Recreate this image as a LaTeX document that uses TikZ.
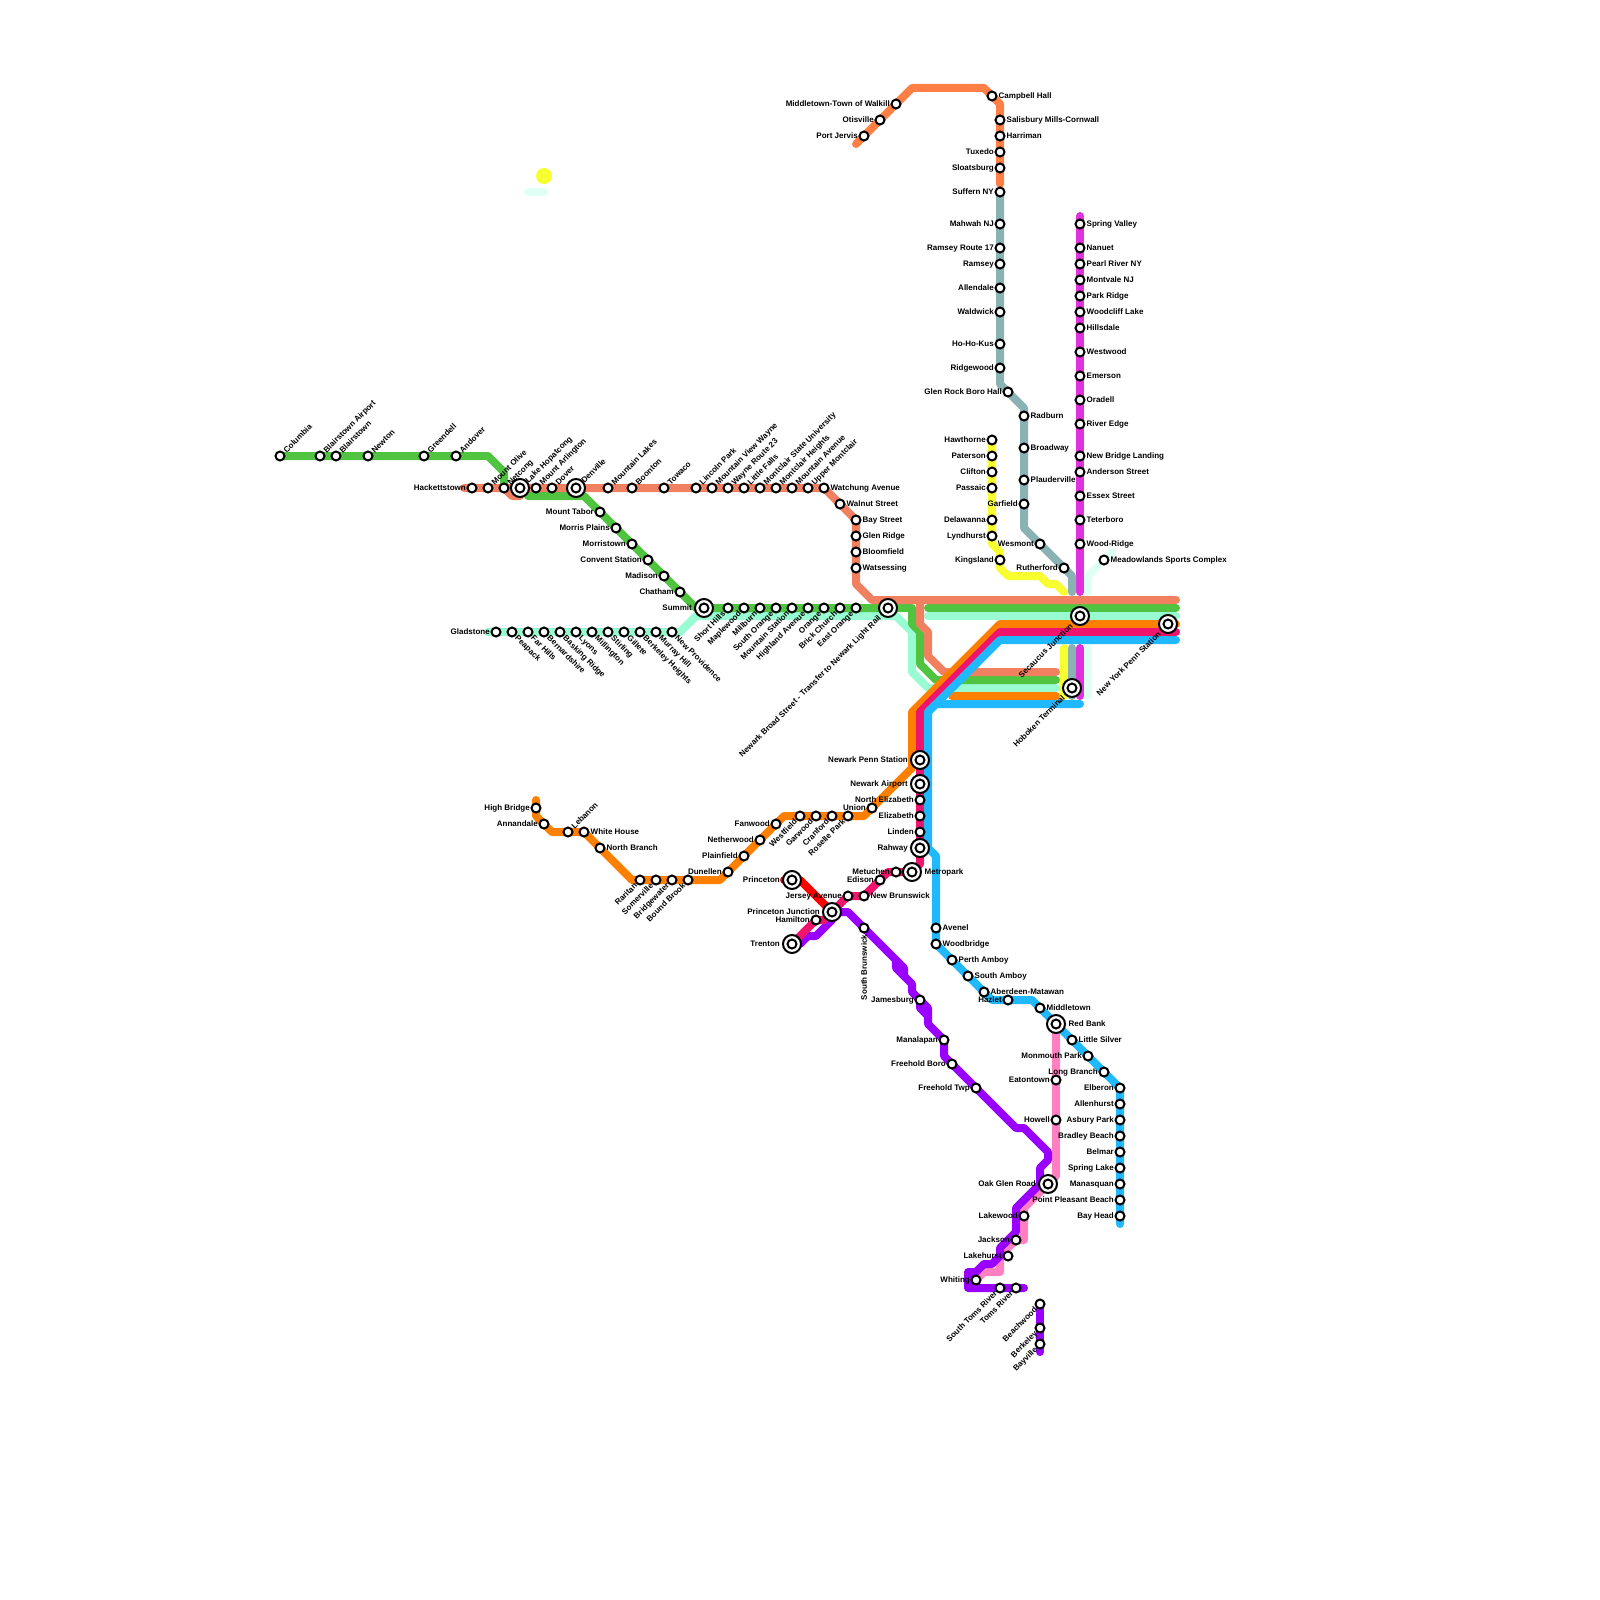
\documentclass[tikz,border=0pt]{standalone}
\usepackage{fontspec}
\setmainfont{Liberation Sans}
\usetikzlibrary{backgrounds}
\definecolor{lnGreen}{HTML}{50C440}
\definecolor{lnSalmon}{HTML}{F08060}
\definecolor{lnMint}{HTML}{98FBD2}
\definecolor{lnPale}{HTML}{E0FFF5}
\definecolor{lnOrange}{HTML}{FF8000}
\definecolor{lnCoral}{HTML}{FF7F45}
\definecolor{lnCrimson}{HTML}{F0146C}
\definecolor{lnBlue}{HTML}{20B8FF}
\definecolor{lnYellow}{HTML}{F8FF30}
\definecolor{lnGray}{HTML}{8BB2B3}
\definecolor{lnMagenta}{HTML}{E030E0}
\definecolor{lnPurple}{HTML}{9900FF}
\definecolor{lnPink}{HTML}{FF80C0}
\tikzset{
  rail/.style={line width=8pt,line cap=round,line join=round},
  stn/.style={circle,draw=black,fill=white,line width=2pt,minimum size=9pt,inner sep=0pt},
  hubring/.style={circle,draw=black,fill=white,line width=2pt,minimum size=18pt,inner sep=0pt},
  txt/.style={inner sep=0pt,font=\bfseries\fontsize{8}{8}\selectfont,text=black},
  lblE/.style={txt,anchor=base west,xshift=#1,yshift=-2.9pt},
  lblE/.default=6.5pt,
  lblW/.style={txt,anchor=base east,xshift=-#1,yshift=-2.9pt},
  lblW/.default=6pt,
  lblNE/.style={txt,rotate=45,anchor=base west,xshift=#1,yshift=-2.9pt},
  lblNE/.default=6.5pt,
  lblSE/.style={txt,rotate=-45,anchor=base west,xshift=6.5pt,yshift=-2.9pt},
  lblSW/.style={txt,rotate=45,anchor=base east,xshift=-#1,yshift=-2.9pt},
  lblSW/.default=6pt,
  lblS/.style={txt,rotate=90,anchor=base east,xshift=-6.5pt,yshift=-2.9pt}
}
\begin{document}
\begin{tikzpicture}[x=8pt,y=-8pt]
\useasboundingbox (0,0) rectangle (200,200);
% hubs
\foreach\nm/\i/\j in {hop/65/61, den/72/61, sum/88/76, brd/111/76, sec/135/77, nyp/146/78, hob/134/86, pen/115/95, air/115/98, rah/115/106, met/114/109, pri/99/110, pjc/104/114, tre/99/118, rbk/132/128, oak/131/148}
  {\node[hubring] (\nm-o) at (\i,\j) {}; \node[stn] (\nm) at (\i,\j) {};}
\foreach\nm/\txt in {hop/Lake Hopatcong, den/Denville}
  {\node[lblNE=9pt] (\nm-t) at (\nm) {\txt};}
\foreach\nm/\txt in {brd/Newark Broad Street - Transfer to Newark Light Rail, sec/Secaucus Junction, nyp/New York Penn Station, hob/Hoboken Terminal}
  {\node[lblSW=12pt] (\nm-t) at (\nm) {\txt};}
\foreach\nm/\txt in {sum/Summit, pen/Newark Penn Station, air/Newark Airport, rah/Rahway, pri/Princeton, pjc/Princeton Junction, tre/Trenton, oak/Oak Glen Road}
  {\node[lblW=12pt] (\nm-t) at (\nm) {\txt};}
\foreach\nm/\txt in {met/Metropark, rbk/Red Bank}
  {\node[lblE=12.5pt] (\nm-t) at (\nm) {\txt};}
% stations, text to the upper right
\foreach\nm/\i/\j/\txt in {col/35/57/Columbia, baa/40/57/Blairstown Airport, bla/42/57/Blairstown, nwt/46/57/Newton, grd/53/57/Greendell, and/57/57/Andover, mol/61/61/Mount Olive, net/63/61/Netcong, mar/67/61/Mount Arlington, dov/69/61/Dover, mla/76/61/Mountain Lakes, boo/79/61/Boonton, tow/83/61/Towaco, lin/87/61/Lincoln Park, mvw/89/61/Mountain View Wayne, way/91/61/Wayne Route 23, lfa/93/61/Little Falls, msu/95/61/Montclair State University, mch/97/61/Montclair Heights, mav/99/61/Mountain Avenue, upm/101/61/Upper Montclair, leb/71/104/Lebanon}
  {\node[stn] (\nm) at (\i,\j) {}; \node[lblNE] (\nm-t) at (\nm) {\txt};}
% text to the lower right
\foreach\nm/\i/\j/\txt in {pea/64/79/Peapack, far/66/79/Far Hills, ber/68/79/Bernardshire, bas/70/79/Basking Ridge, lyo/72/79/Lyons, mil/74/79/Millington, sti/76/79/Stirling, gil/78/79/Gillete, bhe/80/79/Berkeley Heights, mur/82/79/Murray Hill, npr/84/79/New Providence}
  {\node[stn] (\nm) at (\i,\j) {}; \node[lblSE] (\nm-t) at (\nm) {\txt};}
% text to the lower left
\foreach\nm/\i/\j/\txt in {shi/91/76/Short Hills, mpl/93/76/Maplewood, mbu/95/76/Millburn, sor/97/76/South Orange, mst/99/76/Mountain Station, hav/101/76/Highland Avenue, ora/103/76/Orange, bri/105/76/Brick Church, eor/107/76/East Orange, rar/80/110/Raritan, som/82/110/Somerville, bgw/84/110/Bridgewater, bbr/86/110/Bound Brook, wfd/100/102/Westfield, gar/102/102/Garwood, cra/104/102/Cranford, ros/106/102/Roselle Park, str/125/161/South Toms River, tom/127/161/Toms River, bea/130/163/Beachwood, bky/130/166/Berkeley, bay/130/168/Bayville}
  {\node[stn] (\nm) at (\i,\j) {}; \node[lblSW] (\nm-t) at (\nm) {\txt};}
% text to the left
\foreach\nm/\i/\j/\txt in {hac/59/61/Hackettstown, gla/62/79/Gladstone, mta/75/64/Mount Tabor, mpa/77/66/Morris Plains, mtn/79/68/Morristown, con/81/70/Convent Station, mad/83/72/Madison, cha/85/74/Chatham, mow/112/13/Middletown-Town of Walkill, oti/110/15/Otisville, pjv/108/17/Port Jervis, tux/125/19/Tuxedo, slo/125/21/Sloatsburg, suf/125/24/Suffern NY, mah/125/28/Mahwah NJ, r17/125/31/Ramsey Route 17, ram/125/33/Ramsey, all/125/36/Allendale, wal/125/39/Waldwick, hhk/125/43/Ho-Ho-Kus, rid/125/46/Ridgewood, grb/126/49/Glen Rock Boro Hall, haw/124/55/Hawthorne, pat/124/57/Paterson, cli/124/59/Clifton, pas/124/61/Passaic, del/124/65/Delawanna, lyn/124/67/Lyndhurst, kin/125/70/Kingsland, gfd/128/63/Garfield, wes/130/68/Wesmont, rut/133/71/Rutherford, nel/115/100/North Elizabeth, eli/115/102/Elizabeth, lnd/115/104/Linden, mtc/112/109/Metuchen, edi/110/110/Edison, jer/106/112/Jersey Avenue, ham/102/115/Hamilton, hib/67/101/High Bridge, ann/68/103/Annandale, dun/91/109/Dunellen, pla/93/107/Plainfield, nwd/95/105/Netherwood, fan/97/103/Fanwood, uni/109/101/Union, jam/115/125/Jamesburg, man/118/130/Manalapan, fbo/119/133/Freehold Boro, ftw/122/136/Freehold Twp, haz/126/125/Hazlet, mon/136/132/Monmouth Park, lon/138/134/Long Branch, eat/132/135/Eatontown, how/132/140/Howell, elb/140/136/Elberon, ahu/140/138/Allenhurst, asb/140/140/Asbury Park, bra/140/142/Bradley Beach, bel/140/144/Belmar, spr/140/146/Spring Lake, mnq/140/148/Manasquan, ppb/140/150/Point Pleasant Beach, bhd/140/152/Bay Head, lkw/128/152/Lakewood, jac/127/155/Jackson, lkh/126/157/Lakehurst, whi/122/160/Whiting}
  {\node[stn] (\nm) at (\i,\j) {}; \node[lblW] (\nm-t) at (\nm) {\txt};}
% text to the right
\foreach\nm/\i/\j/\txt in {cam/124/12/Campbell Hall, sal/125/15/Salisbury Mills-Cornwall, har/125/17/Harriman, rad/128/52/Radburn, brw/128/56/Broadway, pld/128/60/Plauderville, spv/135/28/Spring Valley, nan/135/31/Nanuet, prv/135/33/Pearl River NY, mvl/135/35/Montvale NJ, pkr/135/37/Park Ridge, wcl/135/39/Woodcliff Lake, hil/135/41/Hillsdale, wwd/135/44/Westwood, eme/135/47/Emerson, orl/135/50/Oradell, red/135/53/River Edge, nbl/135/57/New Bridge Landing, ans/135/59/Anderson Street, ess/135/62/Essex Street, tet/135/65/Teterboro, wdr/135/68/Wood-Ridge, mea/138/70/Meadowlands Sports Complex, wat/103/61/Watchung Avenue, wnt/105/63/Walnut Street, bys/107/65/Bay Street, glr/107/67/Glen Ridge, blo/107/69/Bloomfield, wts/107/71/Watsessing, whh/73/104/White House, nbr/75/106/North Branch, nbw/108/112/New Brunswick, ave/117/116/Avenel, wbr/117/118/Woodbridge, pam/119/120/Perth Amboy, sam/121/122/South Amboy, abm/123/124/Aberdeen-Matawan, mdt/130/126/Middletown, lsv/134/130/Little Silver}
  {\node[stn] (\nm) at (\i,\j) {}; \node[lblE] (\nm-t) at (\nm) {\txt};}
\node[stn] (sbk) at (108,116) {};
\node[lblS] (sbk-t) at (sbk) {South Brunswick};
\node[circle,fill=lnYellow,minimum size=16pt,inner sep=0pt] (sun) at (68,22) {};
% bends
\foreach\nm/\i/\j in {pa1/66/24, pa2/68/24, pb1/139/69, pb2/136/72, pb3/136/74, pb4/136/81, pb5/136/87, mg1/135/27, mg2/135/74, mg3/135/81, mg4/135/87, gy1/125/48, gy2/128/51, gy3/128/66, gy4/134/72, gy5/134/74, gy6/134/81, gy7/134/87, yl1/124/68, yl2/125/69, yl3/125/71, yl4/126/72, yl5/130/72, yl6/131/73, yl7/132/73, yl8/133/74, yl9/133/81, yl10/133/87, cr1/107/18, cr2/114/11, cr3/123/11, cr4/125/13, cr5/125/23}
  {\coordinate (\nm) at (\i,\j);}
\foreach\nm/\i/\j in {gn1/61/57, gn2/63/59, gn3/63/61, gn4/66/62, gn5/73/62, gn6/87/76, gn7/114/76, gn8/114/78, gn9/115/79, gn10/115/83, gn11/117/85, gn12/132/85, gn13/116/76, gn14/147/76, sa1/58/61, sa2/103/61, sa3/107/65, sa4/107/73, sa5/109/75, sa6/147/75, sa7/115/75, sa8/115/78, sa9/116/79, sa10/116/82, sa11/118/84, sa12/132/84, sa13/63/61, sa14/64/62, sa15/65/62, mi1/61/79, mi2/85/79, mi3/87/77, mi4/112/77, mi5/114/79, mi6/114/84, mi7/116/86, mi8/132/86, mi9/116/77, mi10/147/77}
  {\coordinate (\nm) at (\i,\j);}
\foreach\nm/\i/\j in {or1/67/100, or2/67/102, or3/69/104, or4/73/104, or5/79/110, or6/90/110, or7/98/102, or8/108/102, or9/114/96, or10/114/89, or11/125/78, or12/147/78, or13/119/87, or14/132/87, ci1/147/79, ci2/125/79, ci3/115/89, ci4/115/108, ci5/114/109, ci6/111/109, ci7/108/112, ci8/103/115, ci9/102/115, rd1/98/110, rd2/100/110, bl1/147/80, bl2/125/80, bl3/116/89, bl4/116/106, bl5/117/107, bl6/124/125, bl7/129/125, bl8/140/136, bl9/140/153, bl10/135/88, bl11/117/88}
  {\coordinate (\nm) at (\i,\j);}
\foreach\nm/\i/\j in {pu1/100/118, pu2/101/117, pu3/102/117, pu4/104/115, pu5/104/114, pu6/106/114, pu7/113/121, pu8/113/122, pu9/112/120, pu10/112/121, pu11/114/123, pu12/114/124, pu13/115/126, pu14/116/127, pu15/116/128, pu16/116/126, pu17/118/130, pu18/118/132, pu19/127/141, pu20/128/141, pu21/131/144, pu22/131/145, pu23/130/146, pu24/130/148, pu25/127/151, pu26/127/154, pu27/125/156, pu28/125/157, pu29/124/158, pu30/123/158, pu31/122/159, pu32/121/159, pu33/121/161, pu34/128/161, pu35/130/169, pk1/132/146, pk2/132/147, pk3/128/151, pk4/128/155, pk5/127/155, pk6/125/157, pk7/125/159, pk8/123/159, pk9/122/160}
  {\coordinate (\nm) at (\i,\j);}
% lines
\begin{scope}[on background layer]
\draw[rail,lnPale] (pa1) -- (pa2);
\draw[rail,lnPale] (pb1) -- (pb2) -- (pb3);
\draw[rail,lnPale] (pb4) -- (pb5);
\draw[rail,lnMagenta] (mg1) -- (mg2);
\draw[rail,lnMagenta] (mg3) -- (mg4);
\draw[rail,lnGray] (suf.center) -- (gy1) -- (gy2) -- (gy3) -- (gy4) -- (gy5);
\draw[rail,lnGray] (gy6) -- (gy7);
\draw[rail,lnYellow] (haw.center) -- (yl1) -- (yl2) -- (yl3) -- (yl4) -- (yl5) -- (yl6) -- (yl7) -- (yl8);
\draw[rail,lnYellow] (yl9) -- (yl10);
\draw[rail,lnCoral] (cr1) -- (cr2) -- (cr3) -- (cr4) -- (cr5);
\draw[rail,lnMint] (mi1) -- (mi2) -- (mi3) -- (mi4) -- (mi5) -- (mi6) -- (mi7) -- (mi8);
\draw[rail,lnMint] (mi9) -- (mi10);
\draw[rail,lnGreen] (col.center) -- (gn1) -- (gn2) -- (gn3);
\draw[rail,lnSalmon] (sa13) -- (sa14) -- (sa15);
\draw[rail,lnGreen] (gn4) -- (gn5) -- (gn6) -- (gn7) -- (gn8) -- (gn9) -- (gn10) -- (gn11) -- (gn12);
\draw[rail,lnGreen] (gn13) -- (gn14);
\draw[rail,lnSalmon] (sa1) -- (sa2) -- (sa3) -- (sa4) -- (sa5) -- (sa6);
\draw[rail,lnSalmon] (sa7) -- (sa8) -- (sa9) -- (sa10) -- (sa11) -- (sa12);
\draw[rail,lnPink] (rbk.center) -- (pk1) -- (pk2) -- (pk3) -- (pk4) -- (pk5) -- (pk6) -- (pk7) -- (pk8) -- (pk9);
\draw[rail,lnPurple] (pu1) -- (pu2) -- (pu3) -- (pu4) -- (pu5) -- (pu6) -- (pu7) -- (pu8) -- (pu11) -- (pu12) -- (jam.center) -- (pu13) -- (pu14) -- (pu15) -- (pu17) -- (pu18) -- (pu19) -- (pu20) -- (pu21) -- (pu22) -- (pu23) -- (pu24) -- (pu25) -- (pu26) -- (pu27) -- (pu28) -- (pu29) -- (pu30) -- (pu31) -- (pu32) -- (pu33) -- (pu34);
\draw[rail,lnPurple] (pu9) -- (pu10) -- (pu8);
\draw[rail,lnPurple] (jam.center) -- (pu16) -- (pu14);
\draw[rail,lnPurple] (bea.center) -- (pu35);
\draw[rail,lnOrange] (or1) -- (or2) -- (or3) -- (or4) -- (or5) -- (or6) -- (or7) -- (or8) -- (or9) -- (or10) -- (or11) -- (or12);
\draw[rail,lnOrange] (or13) -- (or14);
\draw[rail,red] (rd1) -- (rd2) -- (pjc.center);
\draw[rail,lnCrimson] (ci1) -- (ci2) -- (ci3) -- (ci4) -- (ci5) -- (ci6) -- (ci7) -- (jer.center) -- (ci8) -- (ci9) -- (tre.center);
\draw[rail,lnBlue] (bl1) -- (bl2) -- (bl3) -- (bl4) -- (bl5) -- (wbr.center) -- (bl6) -- (bl7) -- (bl8) -- (bl9);
\draw[rail,lnBlue] (bl10) -- (bl11) -- (bl3);
\end{scope}
\end{tikzpicture}
\end{document}
